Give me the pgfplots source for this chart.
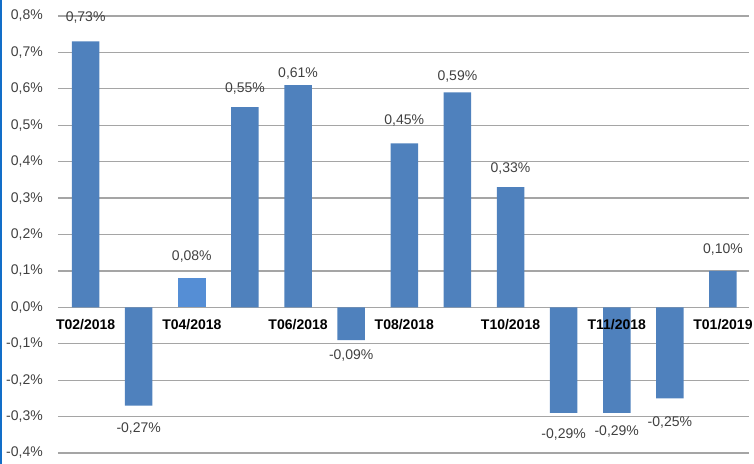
\documentclass[border=0pt]{standalone}
\usepackage{pgfplots}
\usepackage{pgfplotstable}
\pgfplotsset{compat=1.18}
\usepackage{fontspec}
\setmainfont{Liberation Sans}

\definecolor{barblue}{RGB}{79,129,189}
\definecolor{barlight}{RGB}{85,142,213}
\definecolor{gridgray}{RGB}{165,165,165}
\definecolor{labelgray}{RGB}{64,64,64}
\definecolor{frameblue}{RGB}{18,110,200}

% monthly change; dy = offset of the value label from the bar end (bp)
\pgfplotstableread{
x  y      dy
0  0.73   24
1  -0.27  -23
3  0.55   19
4  0.61   12
5  -0.09  -15
6  0.45   23
7  0.59   16
8  0.33   19
9  -0.29  -22
10 -0.29  -19
11 -0.25  -24
12 0.10   21
}\maindata
\pgfplotstableread{
x  y      dy
2  0.08   22
}\lightdata

\begin{document}
\begin{tikzpicture}
\useasboundingbox (-58bp,-11bp) rectangle (696bp,453bp);
\draw[frameblue, line width=2bp] (-57bp,-11bp) -- (-57bp,453bp);
\begin{axis}[
  at={(0bp,0bp)}, anchor=south west,
  scale only axis, width=691bp, height=437bp,
  xmin=-0.52, xmax=12.49, ymin=-0.4, ymax=0.8,
  ytick={-0.4,-0.3,-0.2,-0.1,0,0.1,0.2,0.3,0.4,0.5,0.6,0.7,0.8},
  yticklabels={{-0,4\%},{-0,3\%},{-0,2\%},{-0,1\%},{0,0\%},{0,1\%},{0,2\%},{0,3\%},{0,4\%},{0,5\%},{0,6\%},{0,7\%},{0,8\%}},
  xtick=\empty,
  ymajorgrids,
  grid style={gridgray, line width=1.2bp},
  axis line style={draw=none},
  major tick length=0pt,
  yticklabel style={anchor=east, inner sep=0pt, xshift=-15bp,
    font=\fontsize{14bp}{16bp}\selectfont, text=labelgray},
  ybar, bar width=27.5bp,
  /pgf/number format/assume math mode=true,
  nodes near coords={\pgfmathprintnumber[fixed, fixed zerofill, precision=2, use comma]{\pgfplotspointmeta}\%},
  visualization depends on={\thisrow{dy} \as \dy},
  every node near coord/.append style={anchor=center, yshift=\dy bp,
    font=\fontsize{14bp}{16bp}\selectfont, text=labelgray},
  clip=false,
]
\addplot[fill=barblue, draw=none, bar shift=0pt] table[x=x, y=y] {\maindata};
\addplot[fill=barlight, draw=none, bar shift=0pt] table[x=x, y=y] {\lightdata};
\node[font=\bfseries\fontsize{14bp}{16bp}\selectfont, yshift=-17bp] at (axis cs:0,0) {T02/2018};
\node[font=\bfseries\fontsize{14bp}{16bp}\selectfont, yshift=-17bp] at (axis cs:2,0) {T04/2018};
\node[font=\bfseries\fontsize{14bp}{16bp}\selectfont, yshift=-17bp] at (axis cs:4,0) {T06/2018};
\node[font=\bfseries\fontsize{14bp}{16bp}\selectfont, yshift=-17bp] at (axis cs:6,0) {T08/2018};
\node[font=\bfseries\fontsize{14bp}{16bp}\selectfont, yshift=-17bp] at (axis cs:8,0) {T10/2018};
\node[font=\bfseries\fontsize{14bp}{16bp}\selectfont, yshift=-17bp] at (axis cs:10,0) {T11/2018};
\node[font=\bfseries\fontsize{14bp}{16bp}\selectfont, yshift=-17bp] at (axis cs:12,0) {T01/2019};
\end{axis}
\end{tikzpicture}
\end{document}
